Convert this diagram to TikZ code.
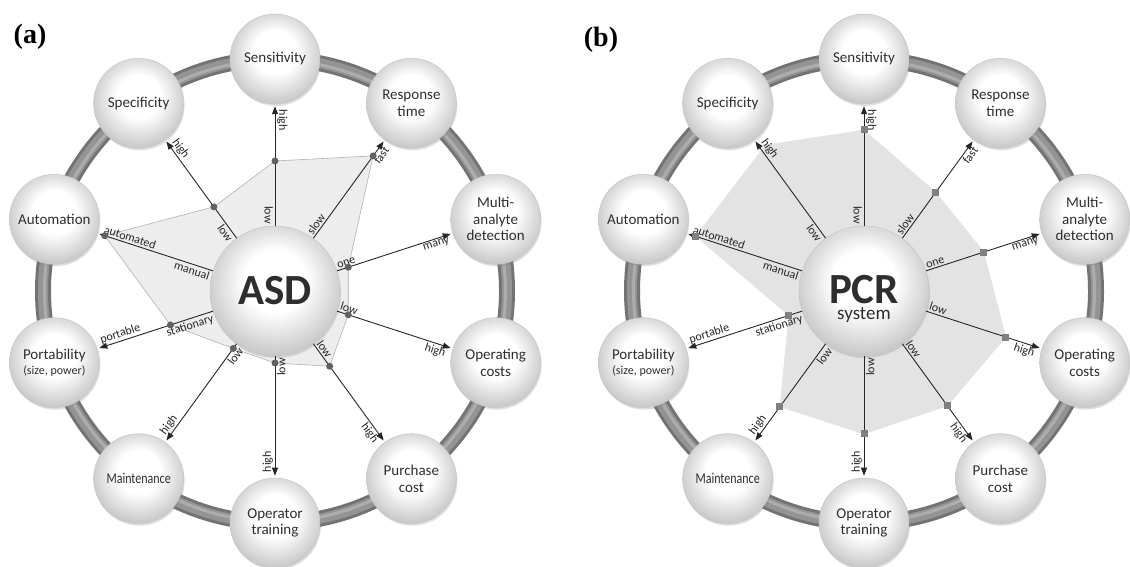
\documentclass[tikz,border=0pt]{standalone}
\usepackage{fontspec}
\setmainfont{Carlito}
\newfontfamily\panelfont{Liberation Serif}
\usepackage{tikz}
\usetikzlibrary{arrows.meta,shadows,backgrounds}
\pgfdeclareradialshading{bubble}{\pgfpoint{0bp}{5bp}}{color(0bp)=(white); color(12bp)=(white); color(30bp)=(black!26); color(50bp)=(black!26)}
\tikzset{
  tube/.style={draw=black!55, line width=16pt},
  tubemid/.style={draw=black!42, line width=10pt},
  tubehi/.style={draw=black!32, line width=3pt},
  topic/.style={circle, minimum size=90pt, inner sep=0pt, shade, shading=bubble, draw=black!22, line width=0.5pt,
    align=center, text=black!82, font=\fontsize{15}{16.5}\selectfont,
    drop shadow={shadow xshift=1pt, shadow yshift=-2pt, opacity=.25}},
  hub/.style={topic, minimum size=130pt, font=\fontsize{43}{16}\selectfont\bfseries},
  spoke/.style={draw=black!85, line width=0.9pt, shorten >=2pt, -{Triangle[length=8pt,width=6pt]}},
  lbl/.style={font=\fontsize{12}{12}\selectfont, text=black!85, inner sep=1.5pt},
  inR/.style={lbl, pos=0, anchor=south west},
  outR/.style={lbl, pos=.97, anchor=north east},
  inL/.style={lbl, pos=0, anchor=north east},
  outL/.style={lbl, pos=.97, anchor=south west},
  areaA/.style={fill=black!7, draw=black!30, line width=0.6pt, line join=round},
  areaB/.style={fill=black!11, draw=black!11, line join=round},
  dot/.style={fill=black!62},
  sqr/.style={fill=black!50},
  panel/.style={font=\fontsize{28}{28}\selectfont\panelfont\bfseries, inner sep=0pt},
}

\begin{document}
\begin{tikzpicture}[x=1pt, y=1pt]
  \def\rr{232}
  \begin{pgfonlayer}{background}
    \fill[white] (0,0) rectangle (1130,567);
  \end{pgfonlayer}
  \useasboundingbox (0,0) rectangle (1130,567);

  \node[panel] (tag-a) at (30,530) {(a)};
  \node[panel] (tag-b) at (601,527) {(b)};

  % (a) ASD
  \begin{scope}[shift={(275,276)}]
    \node[hub] (asd) at (0,0) {ASD};
    \node[topic] (sens-a) at (90:\rr) {Sensitivity};
    \node[topic] (resp-a) at (54:\rr) {Response\\time};
    \node[topic] (multi-a) at (18:\rr) {Multi-\\analyte\\detection};
    \node[topic] (opc-a) at (-18:\rr) {Operating\\costs};
    \node[topic] (buy-a) at (-54:\rr) {Purchase\\cost};
    \node[topic] (train-a) at (-90:\rr) {Operator\\training};
    \node[topic] (maint-a) at (-126:\rr) {\scalebox{0.8}[1]{Maintenance}};
    \node[topic] (port-a) at (-162:\rr) {Portability\\[-2pt]{\fontsize{12}{14}\selectfont(size, power)}};
    \node[topic] (auto-a) at (162:\rr) {Automation};
    \node[topic] (spec-a) at (126:\rr) {Specificity};

    \coordinate (va1) at (90:130);
    \coordinate (va2) at (54:167);
    \coordinate (va3) at (18:77);
    \coordinate (va4) at (-18:77);
    \coordinate (va5) at (-54:93);
    \coordinate (va6) at (-90:72);
    \coordinate (va7) at (-126:71);
    \coordinate (va8) at (-162:110);
    \coordinate (va9) at (162:179);
    \coordinate (va10) at (126:104);

    \begin{pgfonlayer}{background}
      \draw[tube] (0,0) circle (\rr);
      \draw[tubemid] (0,0) circle (\rr);
      \draw[tubehi] (0,0) circle (\rr-1.5);
      \draw[areaA] (va1) -- (va2) -- (va3) -- (va4) -- (va5) -- (va6) -- (va7) -- (va8) -- (va9) -- (va10) -- cycle;
    \end{pgfonlayer}

    \draw[spoke] (asd) -- node[inL,rotate=-90]{low} node[outL,rotate=-90]{high} (sens-a);
    \draw[spoke] (asd) -- node[inR,rotate=54]{slow} node[outR,rotate=54]{fast} (resp-a);
    \draw[spoke] (asd) -- node[inR,rotate=18]{one} node[outR,rotate=18]{many} (multi-a);
    \draw[spoke] (asd) -- node[inR,rotate=-18]{low} node[outR,rotate=-18]{high} (opc-a);
    \draw[spoke] (asd) -- node[inR,rotate=-54]{low} node[outR,rotate=-54]{high} (buy-a);
    \draw[spoke] (asd) -- node[inL,rotate=90]{low} node[outL,rotate=90]{high} (train-a);
    \draw[spoke] (asd) -- node[inL,rotate=54]{low} node[outL,rotate=54]{high} (maint-a);
    \draw[spoke] (asd) -- node[inL,rotate=18]{stationary} node[outL,rotate=18]{portable} (port-a);
    \draw[spoke] (asd) -- node[inL,rotate=-18]{manual} node[outL,rotate=-18]{automated} (auto-a);
    \draw[spoke] (asd) -- node[inL,rotate=-54]{low} node[outL,rotate=-54]{high} (spec-a);

    \foreach \i in {1,...,10} \fill[dot] (va\i) circle (3.5);
  \end{scope}

  % (b) PCR system
  \begin{scope}[shift={(864,276)}]
    \node[hub] (pcr) at (0,0) {\rule{0pt}{44pt}PCR\\{\fontsize{19}{19}\selectfont\mdseries system}};
    \node[topic] (sens-b) at (90:\rr) {Sensitivity};
    \node[topic] (resp-b) at (54:\rr) {Response\\time};
    \node[topic] (multi-b) at (18:\rr) {Multi-\\analyte\\detection};
    \node[topic] (opc-b) at (-18:\rr) {Operating\\costs};
    \node[topic] (buy-b) at (-54:\rr) {Purchase\\cost};
    \node[topic] (train-b) at (-90:\rr) {Operator\\training};
    \node[topic] (maint-b) at (-126:\rr) {\scalebox{0.8}[1]{Maintenance}};
    \node[topic] (port-b) at (-162:\rr) {Portability\\[-2pt]{\fontsize{12}{14}\selectfont(size, power)}};
    \node[topic] (auto-b) at (162:\rr) {Automation};
    \node[topic] (spec-b) at (126:\rr) {Specificity};

    \coordinate (vb1) at (90:161);
    \coordinate (vb2) at (54:122);
    \coordinate (vb3) at (18:126);
    \coordinate (vb4) at (-18:149);
    \coordinate (vb5) at (-54:142);
    \coordinate (vb6) at (-90:143);
    \coordinate (vb7) at (-126:143);
    \coordinate (vb8) at (-162:79);
    \coordinate (vb9) at (162:177);
    \coordinate (vb10) at (124:176);

    \begin{pgfonlayer}{background}
      \draw[tube] (0,0) circle (\rr);
      \draw[tubemid] (0,0) circle (\rr);
      \draw[tubehi] (0,0) circle (\rr-1.5);
      \draw[areaB] (vb1) -- (vb2) -- (vb3) -- (vb4) -- (vb5) -- (vb6) -- (vb7) -- (vb8) -- (vb9) -- (vb10) -- cycle;
    \end{pgfonlayer}

    \draw[spoke] (pcr) -- node[inL,rotate=-90]{low} node[outL,rotate=-90]{high} (sens-b);
    \draw[spoke] (pcr) -- node[inR,rotate=54]{slow} node[outR,rotate=54]{fast} (resp-b);
    \draw[spoke] (pcr) -- node[inR,rotate=18]{one} node[outR,rotate=18]{many} (multi-b);
    \draw[spoke] (pcr) -- node[inR,rotate=-18]{low} node[outR,rotate=-18]{high} (opc-b);
    \draw[spoke] (pcr) -- node[inR,rotate=-54]{low} node[outR,rotate=-54]{high} (buy-b);
    \draw[spoke] (pcr) -- node[inL,rotate=90]{low} node[outL,rotate=90]{high} (train-b);
    \draw[spoke] (pcr) -- node[inL,rotate=54]{low} node[outL,rotate=54]{high} (maint-b);
    \draw[spoke] (pcr) -- node[inL,rotate=18]{stationary} node[outL,rotate=18]{portable} (port-b);
    \draw[spoke] (pcr) -- node[inL,rotate=-18]{manual} node[outL,rotate=-18]{automated} (auto-b);
    \draw[spoke] (pcr) -- node[inL,rotate=-54]{low} node[outL,rotate=-54]{high} (spec-b);

    \foreach \i in {1,...,9} \fill[sqr] ([shift={(-3.5,-3.5)}]vb\i) rectangle ++(7,7);
  \end{scope}
\end{tikzpicture}
\end{document}
